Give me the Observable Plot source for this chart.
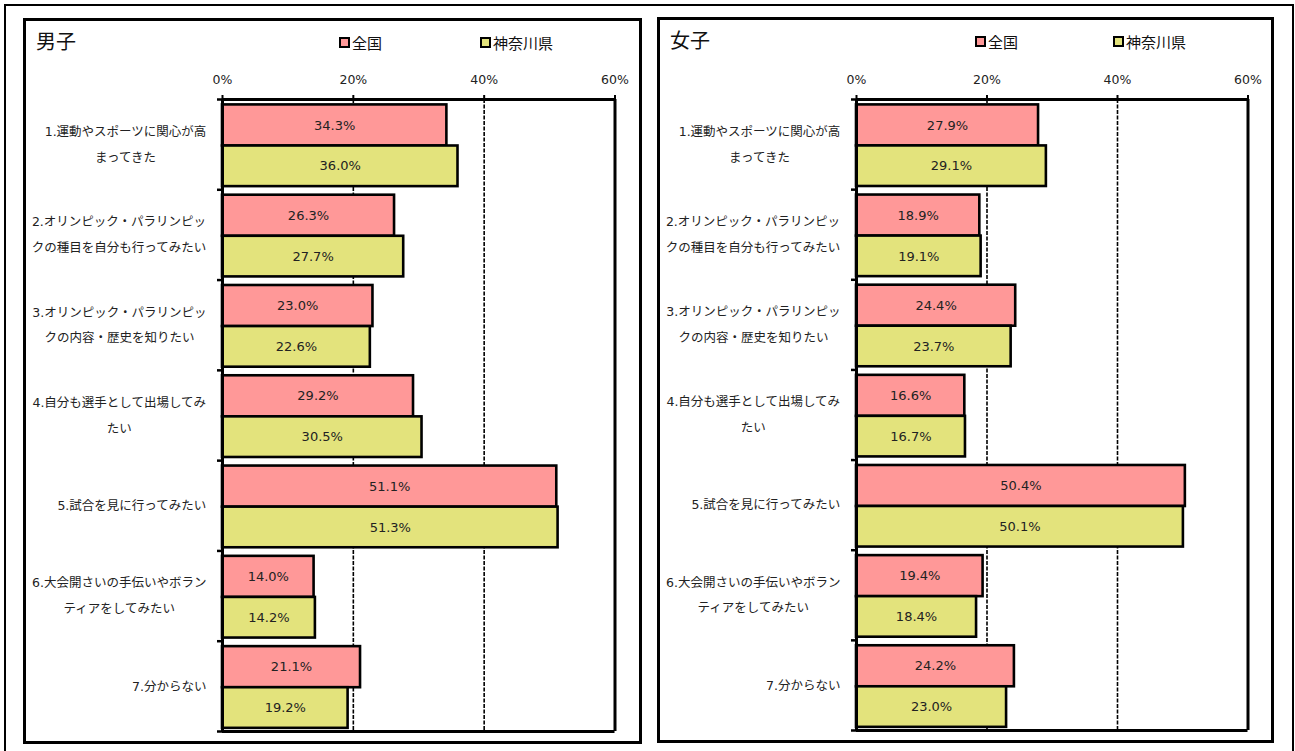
<!DOCTYPE html>
<html><head><meta charset="utf-8">
<script src="https://cdn.jsdelivr.net/npm/d3@7"></script>
<script src="https://cdn.jsdelivr.net/npm/@observablehq/plot@0.6"></script>
<style>
body{margin:0;background:#fff;width:1295px;height:751px;overflow:hidden;position:relative;font-family:"DejaVu Sans","Noto Sans CJK JP",sans-serif;}
#outer{position:absolute;left:4px;top:4px;width:1290px;height:800px;border:2px solid #000;box-sizing:border-box;}
.panel{position:absolute;border:3px solid #000;box-sizing:border-box;background:#fff;}
.panel svg{position:absolute;left:0;top:0;overflow:visible;}
.title{position:absolute;left:10px;top:10px;font-size:20px;line-height:20px;font-family:"Noto Sans CJK JP",sans-serif;color:#111;}
.leg{position:absolute;top:14px;font-size:15px;line-height:15px;font-family:"Noto Sans CJK JP",sans-serif;display:flex;align-items:center;color:#111;}
.sw{display:inline-block;width:7px;height:7px;border:2px solid #000;margin-right:2px;}
</style></head><body>
<div id="outer"></div>
<div class="panel" id="pm" style="left:23px;top:18px;width:619px;height:726px;"></div>
<div class="panel" id="pf" style="left:657px;top:17px;width:617px;height:726px;"></div>
<script>
const categories = [
  "1.運動やスポーツに関心が高\nまってきた",
  "2.オリンピック・パラリンピッ\nクの種目を自分も行ってみたい",
  "3.オリンピック・パラリンピッ\nクの内容・歴史を知りたい",
  "4.自分も選手として出場してみ\nたい",
  "5.試合を見に行ってみたい",
  "6.大会開さいの手伝いやボラン\nティアをしてみたい",
  "7.分からない"
];
const seriesNames = ["全国", "神奈川県"];
const seriesColors = ["#ff9898", "#e3e37c"];
const xTicks = [0, 20, 40, 60];
const maleNational = [34.3, 26.3, 23.0, 29.2, 51.1, 14.0, 21.1];
const maleKanagawa = [36.0, 27.7, 22.6, 30.5, 51.3, 14.2, 19.2];
const femaleNational = [27.9, 18.9, 24.4, 16.6, 50.4, 19.4, 24.2];
const femaleKanagawa = [29.1, 19.1, 23.7, 16.7, 50.1, 18.4, 23.0];

const LABEL_FONT = "12.5px 'DejaVu Sans', 'Noto Sans CJK JP'";
const ctx = document.createElement("canvas").getContext("2d");
ctx.font = LABEL_FONT;
function maxLineWidth(s){ return d3.max(s.split("\n"), l => ctx.measureText(l).width); }

// bar position within each category band (fractions of the band)
const P0 = 0.06, P1 = 0.515, P2 = 0.965;

function makePanel(cfg){
  const panel = document.getElementById(cfg.id);
  const t = document.createElement("div"); t.className = "title"; t.textContent = cfg.title; panel.appendChild(t);
  seriesNames.forEach((s, k) => {
    const l = document.createElement("div"); l.className = "leg"; l.style.left = cfg.leg[k] + "px";
    l.innerHTML = `<span class="sw" style="background:${seriesColors[k]}"></span>${s}`;
    panel.appendChild(l);
  });
  const rows = [];
  categories.forEach((c, i) => {
    rows.push({i, s: 0, v: cfg.nat[i]});
    rows.push({i, s: 1, v: cfg.kan[i]});
  });
  const labelMarks = categories.map((c, i) => Plot.text([c], {
    x: () => 0, y: () => i + 0.5, text: d => d,
    textAnchor: "middle", lineHeight: 2.05, fontSize: 12.5, fill: "#222",
    dx: -(16 + maxLineWidth(c) / 2), dy: -4
  }));
  const chart = Plot.plot({
    width: cfg.width, height: cfg.height,
    marginLeft: cfg.ml, marginRight: cfg.mr, marginTop: cfg.mt, marginBottom: cfg.mb,
    x: {domain: [0, 60]},
    y: {domain: [0, 7], reverse: true},
    style: {fontFamily: "'DejaVu Sans', 'Noto Sans CJK JP', sans-serif", fontSize: "12.5px", color: "#000", background: "transparent", overflow: "visible"},
    marks: [
      Plot.ruleX([20, 40], {stroke: "#000", strokeWidth: 1.6, strokeDasharray: "4,1.5"}),
      Plot.rectX(rows, {
        x1: () => 0, x2: "v",
        y1: d => d.i + (d.s === 0 ? P0 : P1),
        y2: d => d.i + (d.s === 0 ? P1 : P2),
        fill: d => seriesColors[d.s], stroke: "#000", strokeWidth: 2.6
      }),
      Plot.text(rows, {
        x: d => d.v / 2,
        y: d => d.i + (d.s === 0 ? (P0 + P1) / 2 : (P1 + P2) / 2),
        text: d => d.v.toFixed(1) + "%", fontSize: 13, fill: "#222"
      }),
      Plot.ruleY([0, 7], {stroke: "#000", strokeWidth: 3}),
      Plot.ruleX([0, 60], {stroke: "#000", strokeWidth: 3}),
      Plot.axisX({anchor: "top", ticks: xTicks, tickFormat: d => d + "%", tickSize: 5, tickPadding: 11, strokeWidth: 2, fontSize: 12.5, fill: "#222", label: null}),
      Plot.axisY({ticks: d3.range(8), tickSize: 5, tickFormat: () => "", strokeWidth: 2.5, label: null}),
      ...labelMarks
    ]
  });
  panel.appendChild(chart);
}

makePanel({id: "pm", title: "男子", nat: maleNational, kan: maleKanagawa,
  width: 613, height: 720, ml: 196, mr: 24.5, mt: 78, mb: 10, leg: [313, 454]});
makePanel({id: "pf", title: "女子", nat: femaleNational, kan: femaleKanagawa,
  width: 611, height: 720, ml: 196, mr: 23.5, mt: 79, mb: 10, leg: [315, 453]});
</script>
</body></html>
